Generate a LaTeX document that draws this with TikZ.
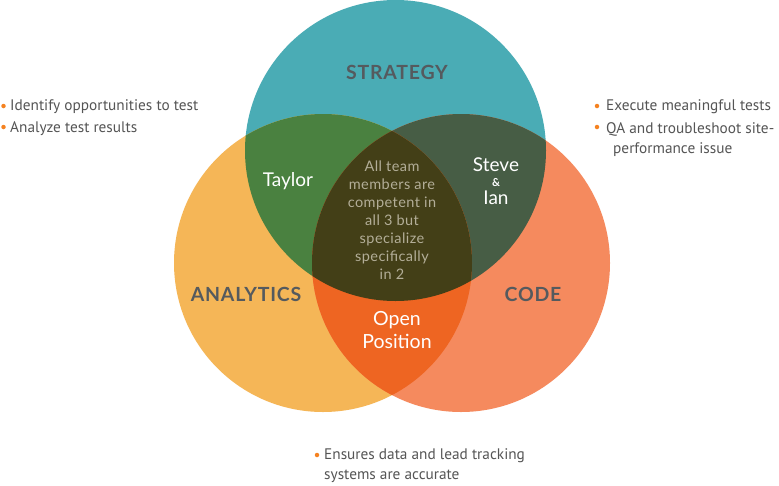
\documentclass[tikz,border=0pt]{standalone}
\usepackage{fontspec}
\setmainfont{Lato}
\newfontfamily\bulletfont{PT Sans}
\newfontfamily\titlefont[LetterSpace=4]{Lato}
\newfontfamily\centerfont[LetterSpace=3]{Lato}
\definecolor{cteal}{HTML}{4AACB5}
\definecolor{cyel}{HTML}{F5B657}
\definecolor{ccode}{HTML}{F58A5E}
\definecolor{cgreen}{HTML}{4A8140}
\definecolor{cdkgreen}{HTML}{475D45}
\definecolor{corange}{HTML}{EE6522}
\definecolor{ccenter}{HTML}{433F17}
\definecolor{ctitle}{HTML}{555A5E}
\definecolor{ctext}{HTML}{555555}
\definecolor{ccentertext}{HTML}{B3AE98}
\definecolor{cdot}{HTML}{F58220}
\tikzset{
  ttl/.style={font=\titlefont\bfseries\fontsize{19.5}{22}\selectfont, text=ctitle, inner sep=0pt},
  pname/.style={font=\fontsize{19}{22}\selectfont, text=white, inner sep=0pt, align=center},
  centertext/.style={font=\centerfont\fontsize{14.5}{18}\selectfont, text=ccentertext, inner sep=0pt, align=center},
  btext/.style={font=\bulletfont\fontsize{15.3}{20}\selectfont, text=ctext, inner sep=0pt, anchor=west, align=left},
  bdot/.style={circle, fill=cdot, inner sep=0pt, minimum size=4.5pt}
}
\begin{document}
\begin{tikzpicture}[x=1pt,y=-1pt]
\useasboundingbox (0,0) rectangle (779,485);
\fill[white] (0,0) rectangle (779,485);
% circles
\coordinate (S) at (395.5,150.5);
\coordinate (A) at (323,263);
\coordinate (C) at (461,263);
\def\rS{150.5}
\def\rA{149}
\def\rC{149}
\fill[cteal] (S) circle (\rS);
\fill[cyel] (A) circle (\rA);
\fill[ccode] (C) circle (\rC);
\begin{scope}
  \clip (S) circle (\rS);
  \fill[cgreen] (A) circle (\rA);
  \fill[cdkgreen] (C) circle (\rC);
\end{scope}
\begin{scope}
  \clip (A) circle (\rA);
  \fill[corange] (C) circle (\rC);
\end{scope}
\begin{scope}
  \clip (S) circle (\rS);
  \clip (A) circle (\rA);
  \fill[ccenter] (C) circle (\rC);
\end{scope}
% titles
\node[ttl] (strategy) at (397,72) {STRATEGY};
\node[ttl] (analytics) at (246,294) {ANALYTICS};
\node[ttl] (code) at (533,294) {CODE};
% names
\node[pname] (taylor) at (288,181) {Taylor};
\node[pname] (steve) at (496,165) {Steve};
\node[pname, font=\fontsize{11}{12}\selectfont\bfseries] (amp) at (496,183) {\&};
\node[pname] (ian) at (496,198) {Ian};
\node[pname, font=\fontsize{19.5}{23}\selectfont] (open) at (397,330) {Open\\Position};
\node[centertext] (center) at (392,220) {All team\\members are\\competent in\\all 3 but\\specialize\\specifically\\in 2};
% bullets
\node[bdot] (d1) at (3.5,106) {};
\node[btext] (b1) at (10,107) {Identify opportunities to test};
\node[bdot] (d2) at (3.5,127) {};
\node[btext] (b2) at (10,129) {Analyze test results};
\node[bdot] (d3) at (597,106) {};
\node[btext] (b3) at (606,107) {Execute meaningful tests};
\node[bdot] (d4) at (597,127) {};
\node[btext] (b4) at (606,129) {QA and troubleshoot site-};
\node[btext] (b5) at (613,150) {performance issue};
\node[bdot] (d5) at (317,455) {};
\node[btext] (b6) at (324,456) {Ensures data and lead tracking};
\node[btext] (b7) at (324,476) {systems are accurate};
\end{tikzpicture}
\end{document}
